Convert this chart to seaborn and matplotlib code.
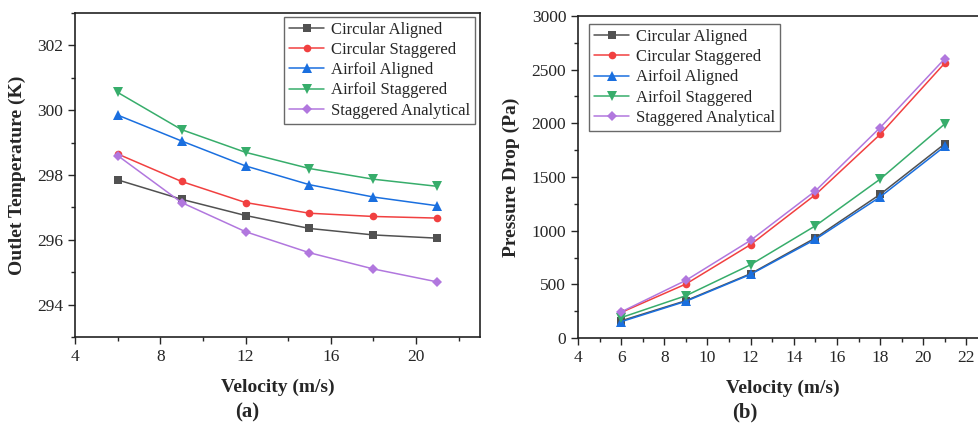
import numpy as np
import pandas as pd
import seaborn as sns
import matplotlib.pyplot as plt
from matplotlib.ticker import MultipleLocator

velocity = [6, 9, 12, 15, 18, 21]
series = ['Circular Aligned', 'Circular Staggered', 'Airfoil Aligned',
          'Airfoil Staggered', 'Staggered Analytical']

# outlet temperature (K)
temp_circ_al = [297.85, 297.25, 296.75, 296.35, 296.15, 296.05]
temp_circ_st = [298.65, 297.80, 297.15, 296.82, 296.72, 296.67]
temp_air_al = [299.85, 299.05, 298.28, 297.70, 297.32, 297.05]
temp_air_st = [300.55, 299.40, 298.70, 298.20, 297.87, 297.65]
temp_analyt = [298.60, 297.15, 296.25, 295.60, 295.10, 294.70]

# pressure drop (Pa)
dp_circ_al = [160, 348, 599, 932, 1338, 1810]
dp_circ_st = [238, 503, 870, 1335, 1897, 2562]
dp_air_al = [152, 342, 593, 919, 1314, 1786]
dp_air_st = [190, 394, 683, 1045, 1480, 1995]
dp_analyt = [243, 537, 910, 1370, 1960, 2603]

colors = ['#515151', '#F14040', '#1A6FDF', '#37AD6B', '#B177DE']
markers = ['s', 'o', '^', 'v', 'D']
msizes = [5.5, 5.5, 6.5, 6.5, 5.5]


def to_long(cols):
    rows = []
    for name, vals in zip(series, cols):
        for v, y in zip(velocity, vals):
            rows.append((name, v, y))
    return pd.DataFrame(rows, columns=['series', 'v', 'y'])


temp_df = to_long([temp_circ_al, temp_circ_st, temp_air_al, temp_air_st, temp_analyt])
dp_df = to_long([dp_circ_al, dp_circ_st, dp_air_al, dp_air_st, dp_analyt])

sns.set_style('ticks')
plt.rcParams['font.family'] = ['Liberation Serif', 'DejaVu Serif']
plt.rcParams['font.size'] = 12

fig = plt.figure(figsize=(9.79, 4.23), dpi=100)
ax1 = fig.add_axes([75 / 979, 1 - 337 / 423, 405 / 979, 324 / 423])
ax2 = fig.add_axes([578 / 979, 1 - 338 / 423, 410 / 979, 322 / 423])


def draw(ax, df, loc, anchor):
    for i, name in enumerate(series):
        sns.lineplot(data=df[df.series == name], x='v', y='y', ax=ax,
                     color=colors[i], marker=markers[i], markersize=msizes[i],
                     markeredgewidth=0, linewidth=1.1, label=name)
    leg = ax.legend(loc=loc, bbox_to_anchor=anchor, fontsize=12, frameon=True,
                    fancybox=False, borderpad=0.3, handlelength=2.1,
                    handletextpad=0.4, labelspacing=0.25, borderaxespad=0)
    leg.get_frame().set_edgecolor('#444444')
    leg.get_frame().set_linewidth(1.0)
    for sp in ax.spines.values():
        sp.set_linewidth(1.2)
        sp.set_color('#222222')
    ax.tick_params(which='both', direction='out', labelsize=12.5, width=1.0)
    ax.tick_params(which='major', length=5)
    ax.tick_params(which='minor', length=3)


draw(ax1, temp_df, 'upper right', (0.988, 0.988))
ax1.set_xlim(4, 23)
ax1.set_ylim(293, 303)
ax1.xaxis.set_major_locator(MultipleLocator(4))
ax1.xaxis.set_minor_locator(MultipleLocator(2))
ax1.yaxis.set_major_locator(MultipleLocator(2))
ax1.yaxis.set_minor_locator(MultipleLocator(1))
ax1.set_xlabel('Velocity (m/s)', fontsize=14, fontweight='bold', labelpad=10)
ax1.set_ylabel('Outlet Temperature (K)', fontsize=14, fontweight='bold', labelpad=8)

draw(ax2, dp_df, 'upper left', (0.028, 0.975))
ax2.set_xlim(4, 23)
ax2.set_ylim(0, 3000)
ax2.xaxis.set_major_locator(MultipleLocator(2))
ax2.xaxis.set_minor_locator(MultipleLocator(1))
ax2.yaxis.set_major_locator(MultipleLocator(500))
ax2.yaxis.set_minor_locator(MultipleLocator(250))
ax2.set_xlabel('Velocity (m/s)', fontsize=14, fontweight='bold', labelpad=10)
ax2.set_ylabel('Pressure Drop (Pa)', fontsize=14, fontweight='bold', labelpad=8)

fig.text(247 / 979, 1 - 412 / 423, '(a)', ha='center', va='center',
         fontsize=15, fontweight='bold')
fig.text(745 / 979, 1 - 412 / 423, '(b)', ha='center', va='center',
         fontsize=15, fontweight='bold')

fig.savefig('out.png', dpi=100)
